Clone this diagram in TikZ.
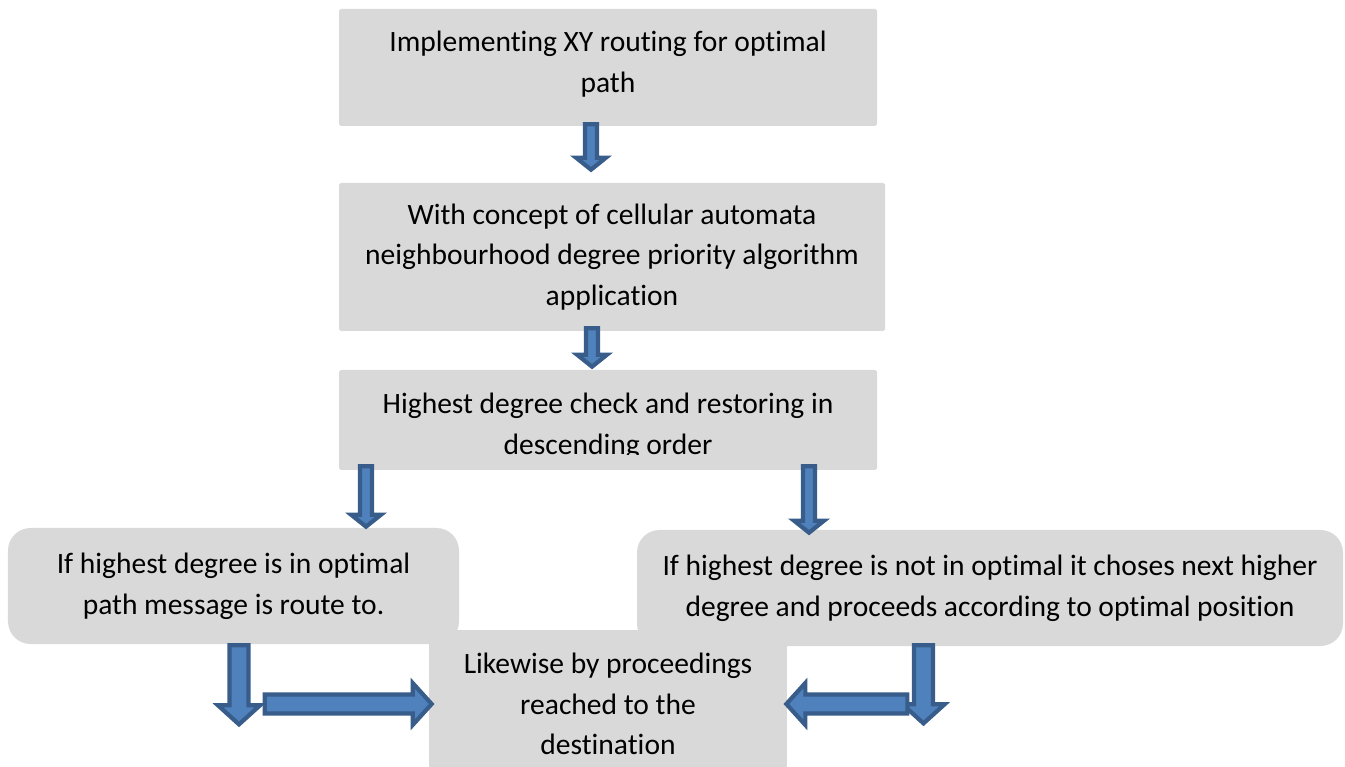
\documentclass[tikz,border=0pt]{standalone}
\usepackage{fontspec}
\setmainfont{Carlito}[Ligatures=NoCommon]
\usepackage{tikz}
\usetikzlibrary{positioning}
\usetikzlibrary{calc}

\definecolor{boxgray}{HTML}{D9D9D9}
\definecolor{arrowfill}{HTML}{4F81BD}
\definecolor{arrowline}{HTML}{385D8A}

% block arrow: start, tip, shaft half width, head half width, head length
\newcommand{\blockarrow}[5]{%
  \coordinate (ba-s) at (#1);
  \coordinate (ba-e) at (#2);
  \coordinate (ba-h) at ($(ba-e)!#5!(ba-s)$);
  \filldraw[fat arrow] ($(ba-s)!#3!90:(ba-e)$) -- ($(ba-h)!#3!90:(ba-e)$) -- ($(ba-h)!#4!90:(ba-e)$) -- (ba-e)
    -- ($(ba-h)!#4!-90:(ba-e)$) -- ($(ba-h)!#3!-90:(ba-e)$) -- ($(ba-s)!#3!-90:(ba-e)$) -- cycle;}

\begin{document}
\begin{tikzpicture}[node distance=2cm,on grid,
    box/.style={fill=boxgray, align=center, inner sep=0pt, rounded corners=1pt,
                font=\fontsize{16.8}{23.2}\selectfont},
    round box/.style={box, rounded corners=0.45cm},
    fat arrow/.style={fill=arrowfill, draw=arrowline, line width=2.4pt}]
    % \draw[help lines] (0,0) grid (27,-16);
    \useasboundingbox (0,0) rectangle (26.9,-15.34);

    \node[box, minimum width=10.76cm, minimum height=2.34cm]                                         (box1) at (12.16,-1.35) {};
    \node[box, minimum width=10.92cm, minimum height=2.96cm, below=3.79cm of box1, xshift=0.08cm]    (box2) {With concept of cellular automata\\neighbourhood degree priority algorithm\\application};
    \node[box, minimum width=10.76cm, minimum height=2cm, below=3.26cm of box2, xshift=-0.08cm]      (box3) {};
    \node[round box, minimum width=9.02cm, minimum height=2.32cm, below left=3.32cm and 7.49cm of box3]  (box4) {If highest degree is in optimal\\path message is route to.};
    \node[round box, minimum width=14.12cm, minimum height=2.32cm, below right=3.36cm and 7.64cm of box3] (box5) {If highest degree is not in optimal it choses next higher\\degree and proceeds according to optimal position};
    \node[box, rounded corners=0pt, minimum width=7.16cm, minimum height=2.96cm, below=5.68cm of box3] (box6) {Likewise by proceedings\\reached to the\\destination};

    \node[box, fill=none] (box1text) at ([yshift=0.06cm]box1.center) {Implementing XY routing for optimal\\path};

    % last line of box3 is cut off
    \begin{scope}
      \clip (box3.north west) rectangle ([yshift=0.31cm]box3.south east);
      \node[box, fill=none] (box3text) at ([yshift=-0.13cm]box3.center) {Highest degree check and restoring in\\descending order};
    \end{scope}

    \coordinate[below=1.60cm of box4.south, xshift=0.11cm]  (drop_l);
    \coordinate[below=1.54cm of box5.south, xshift=-1.33cm] (drop_r);
    \coordinate[left=3.28cm of box6.west]                    (from_l);
    \coordinate[right=2.40cm of box6.east]                   (from_r);

    \blockarrow{[xshift=-0.34cm,yshift=0.04cm]box1.south}{[xshift=-0.42cm,yshift=0.26cm]box2.north}{0.12cm}{0.30cm}{0.24cm}
    \blockarrow{[xshift=-0.40cm,yshift=0.06cm]box2.south}{[xshift=-0.32cm,yshift=0.06cm]box3.north}{0.12cm}{0.30cm}{0.24cm}
    \blockarrow{[xshift=-4.84cm,yshift=0.08cm]box3.south}{[xshift=2.65cm,yshift=0.02cm]box4.north}{0.12cm}{0.30cm}{0.24cm}
    \blockarrow{[xshift=4.02cm,yshift=0.08cm]box3.south}{[xshift=-3.62cm,yshift=-0.06cm]box5.north}{0.12cm}{0.30cm}{0.24cm}

    \blockarrow{[xshift=0.11cm,yshift=-0.02cm]box4.south}{drop_l}{0.19cm}{0.42cm}{0.38cm}
    \blockarrow{from_l}{[xshift=0.06cm]box6.west}{0.19cm}{0.42cm}{0.38cm}
    \blockarrow{[xshift=-1.33cm,yshift=0.02cm]box5.south}{drop_r}{0.19cm}{0.42cm}{0.38cm}
    \blockarrow{from_r}{[xshift=-0.02cm]box6.east}{0.19cm}{0.42cm}{0.38cm}
\end{tikzpicture}
\end{document}
